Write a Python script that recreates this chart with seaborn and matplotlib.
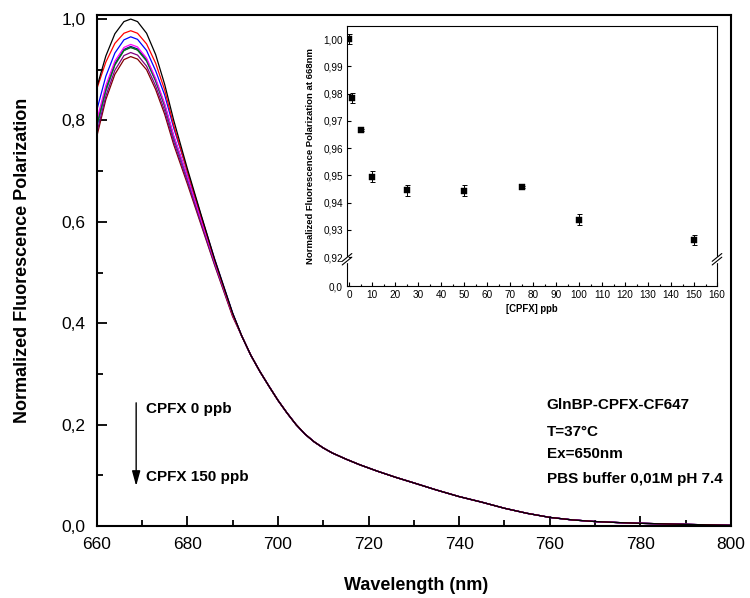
import numpy as np
import pandas as pd
import matplotlib
matplotlib.use("Agg")
import matplotlib.pyplot as plt
from matplotlib.ticker import MultipleLocator, FixedLocator, FixedFormatter, NullLocator
import seaborn as sns

# --- emission spectra ---
head_nm = [660, 662, 664, 666, 667.5, 669, 671, 673, 675, 677, 680, 683, 686, 690]
tail_nm = [692, 694, 696, 698, 700, 702, 704, 706, 708, 710, 712, 715, 718, 722, 726,
           730, 735, 740, 745, 750, 755, 760, 765, 770, 775, 780, 790, 800]
# above ~690 nm all the curves lie on top of each other
tail_fp = [0.375, 0.337, 0.305, 0.276, 0.248, 0.223, 0.200, 0.181, 0.166, 0.154, 0.144,
           0.132, 0.121, 0.108, 0.096, 0.085, 0.071, 0.058, 0.047, 0.035, 0.025, 0.017,
           0.012, 0.0088, 0.0068, 0.0053, 0.0032, 0.0013]

fp_0 = [0.865, 0.927, 0.971, 0.995, 1.000, 0.995, 0.972, 0.930, 0.871, 0.800, 0.705, 0.615, 0.527, 0.420]
fp_1 = [0.862, 0.915, 0.952, 0.972, 0.977, 0.972, 0.951, 0.913, 0.860, 0.790, 0.700, 0.612, 0.525, 0.418]
fp_5 = [0.820, 0.887, 0.933, 0.959, 0.965, 0.960, 0.938, 0.898, 0.850, 0.785, 0.700, 0.613, 0.527, 0.420]
fp_10 = [0.800, 0.869, 0.917, 0.944, 0.950, 0.945, 0.923, 0.883, 0.833, 0.770, 0.690, 0.605, 0.522, 0.418]
fp_25 = [0.790, 0.861, 0.910, 0.938, 0.944, 0.939, 0.918, 0.879, 0.830, 0.768, 0.690, 0.606, 0.523, 0.419]
fp_50 = [0.785, 0.857, 0.909, 0.938, 0.944, 0.939, 0.917, 0.877, 0.828, 0.765, 0.686, 0.603, 0.520, 0.417]
fp_75 = [0.792, 0.863, 0.912, 0.940, 0.946, 0.941, 0.920, 0.880, 0.830, 0.767, 0.688, 0.604, 0.521, 0.418]
fp_100 = [0.775, 0.848, 0.899, 0.928, 0.934, 0.929, 0.907, 0.868, 0.819, 0.758, 0.680, 0.598, 0.517, 0.415]
fp_150 = [0.768, 0.841, 0.891, 0.920, 0.926, 0.921, 0.900, 0.861, 0.812, 0.752, 0.675, 0.595, 0.515, 0.413]

conc_labels = ["0", "1", "5", "10", "25", "50", "75", "100", "150"]
head_curves = [fp_0, fp_1, fp_5, fp_10, fp_25, fp_50, fp_75, fp_100, fp_150]
curve_colors = ["black", "red", "blue", "magenta", "#008000", "#3a3ac8", "#000080", "#800080", "#800000"]

main_yticks = [0.0, 0.2, 0.4, 0.6, 0.8, 1.0]
main_yticklabels = ["0,0", "0,2", "0,4", "0,6", "0,8", "1,0"]

# --- inset: FP at 668 nm vs CPFX ---
cpfx_ppb = [0, 1, 5, 10, 25, 50, 75, 100, 150]
fp_668 = [1.0000, 0.9784, 0.9667, 0.9495, 0.9445, 0.9443, 0.9457, 0.9337, 0.9263]
fp_668_err = [0.0018, 0.0019, 0.0004, 0.0020, 0.0020, 0.0020, 0.0004, 0.0020, 0.0019]

inset_yticks = [0.0, 0.92, 0.93, 0.94, 0.95, 0.96, 0.97, 0.98, 0.99, 1.00]
inset_yticklabels = ["0,0", "0,92", "0,93", "0,94", "0,95", "0,96", "0,97", "0,98", "0,99", "1,00"]

rows = []
for lab, head in zip(conc_labels, head_curves):
    for w, v in zip(head_nm + tail_nm, head + tail_fp):
        rows.append({"wavelength": w, "fp": v, "conc": lab})
spectra = pd.DataFrame(rows)

sns.set_style("ticks")
plt.rcParams["font.family"] = ["Liberation Sans", "DejaVu Sans"]
plt.rcParams.update({"text.color": "black", "axes.labelcolor": "black",
                     "axes.edgecolor": "black", "xtick.color": "black",
                     "ytick.color": "black"})

fig = plt.figure(figsize=(7.5, 5.98), dpi=100)
ax = fig.add_axes([0.129, 0.1204, 0.8456, 0.8545])

# highest concentration drawn first so the 0 ppb curve sits on top
sns.lineplot(data=spectra, x="wavelength", y="fp", hue="conc", hue_order=conc_labels[::-1],
             palette=dict(zip(conc_labels, curve_colors)), estimator=None, sort=False,
             linewidth=0.9, legend=False, ax=ax)

ax.set_xlim(660, 800)
ax.set_ylim(0, 1.008)
ax.xaxis.set_major_locator(MultipleLocator(20))
ax.xaxis.set_minor_locator(MultipleLocator(10))
ax.yaxis.set_major_locator(FixedLocator(main_yticks))
ax.yaxis.set_major_formatter(FixedFormatter(main_yticklabels))
ax.yaxis.set_minor_locator(MultipleLocator(0.1))
ax.tick_params(which="both", direction="in", width=1.3, top=False, right=False)
ax.tick_params(which="major", length=7, labelsize=12.5)
ax.tick_params(which="minor", length=4)
ax.tick_params(axis="x", pad=8)
ax.tick_params(axis="y", pad=8)
for sp in ax.spines.values():
    sp.set_linewidth(1.5)

ax.set_xlabel("Wavelength (nm)", fontsize=13, fontweight="bold")
ax.set_ylabel("Normalized Fluorescence Polarization", fontsize=13, fontweight="bold")
ax.xaxis.set_label_coords(0.504, -0.099)
ax.yaxis.set_label_coords(-0.103, 0.52)

# arrow + concentration notes
ax.annotate("", xy=(668.7, 0.079), xytext=(668.7, 0.243),
            arrowprops=dict(arrowstyle="-|>,head_length=0.9,head_width=0.25",
                            color="black", lw=1, mutation_scale=10, shrinkA=0, shrinkB=0))
ax.text(670.9, 0.231, "CPFX 0 ppb", fontsize=11, fontweight="bold", va="center")
ax.text(670.9, 0.097, "CPFX 150 ppb", fontsize=11, fontweight="bold", va="center")

notes = ["GlnBP-CPFX-CF647", "T=37°C", "Ex=650nm", "PBS buffer 0,01M pH 7.4"]
for txt, yy in zip(notes, [0.2387, 0.186, 0.142, 0.092]):
    ax.text(759.3, yy, txt, fontsize=11, fontweight="bold", va="center")

# --- inset with broken y axis ---
BREAK = 0.92
SQUEEZE = 0.01157


def fwd(y):
    y = np.asarray(y, dtype=float)
    return np.where(y >= BREAK, y, BREAK - (BREAK - y) * SQUEEZE)


def inv(z):
    z = np.asarray(z, dtype=float)
    return np.where(z >= BREAK, z, BREAK - (BREAK - z) / SQUEEZE)


ax_in = fig.add_axes([0.4627, 0.5217, 0.4933, 0.4348])
ax_in.set_yscale("function", functions=(fwd, inv))
ax_in.errorbar(cpfx_ppb, fp_668, yerr=fp_668_err, fmt="none", ecolor="black",
               elinewidth=0.7, capsize=1.8, capthick=0.7, zorder=2)
sns.scatterplot(x=cpfx_ppb, y=fp_668, marker="s", s=17, color="black",
                edgecolor="black", linewidth=0.3, ax=ax_in, zorder=3)
ax_in.set_xlim(-1, 160)
ax_in.set_ylim(0, 1.0048)
ax_in.xaxis.set_major_locator(MultipleLocator(10))
ax_in.xaxis.set_minor_locator(MultipleLocator(5))
ax_in.yaxis.set_major_locator(FixedLocator(inset_yticks))
ax_in.yaxis.set_major_formatter(FixedFormatter(inset_yticklabels))
ax_in.yaxis.set_minor_locator(NullLocator())
ax_in.tick_params(which="both", direction="in", width=0.8, top=False, right=False,
                  labelsize=7.2, pad=3)
ax_in.tick_params(which="major", length=3)
ax_in.tick_params(which="minor", length=1.8)
for sp in ax_in.spines.values():
    sp.set_linewidth(0.8)
ax_in.set_xlabel("[CPFX] ppb", fontsize=6.9, fontweight="bold", labelpad=3)
ax_in.set_ylabel("Normalized Fluorescence Polarization at 668nm", fontsize=6.8,
                 fontweight="bold", labelpad=6)

# break marks on both y spines
for xs in (0, 1):
    ax_in.plot([xs, xs], [0.097, 0.109], transform=ax_in.transAxes, color="white",
               lw=2.5, clip_on=False, zorder=5)
    for dy in (-0.007, 0.007):
        ax_in.plot([xs - 0.013, xs + 0.013], [0.103 + dy - 0.015, 0.103 + dy + 0.015],
                   transform=ax_in.transAxes, color="black", lw=0.8,
                   clip_on=False, zorder=6)

fig.savefig("out.png", dpi=100)
